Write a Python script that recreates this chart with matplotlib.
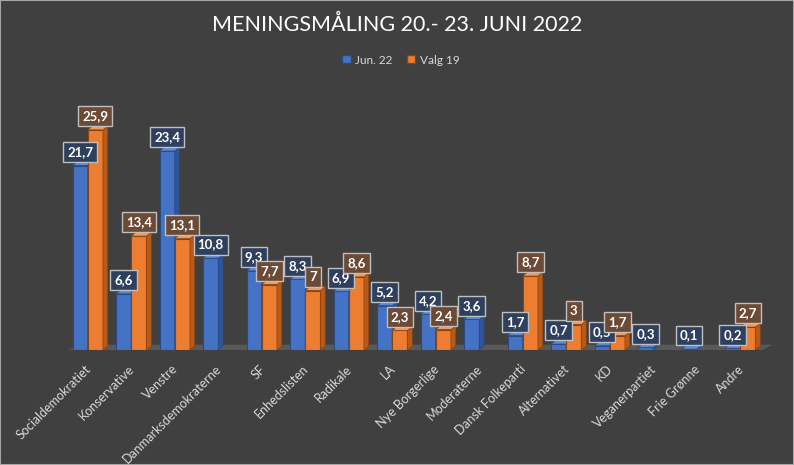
import numpy as np
import matplotlib
matplotlib.use("Agg")
import matplotlib.pyplot as plt
from matplotlib.patches import Polygon, Rectangle, Patch

plt.rcParams["font.family"] = ["Lato", "DejaVu Sans"]

categories = ["Socialdemokratiet", "Konservative", "Venstre", "Danmarksdemokraterne",
              "SF", "Enhedslisten", "Radikale", "LA", "Nye Borgerlige", "Moderaterne",
              "Dansk Folkeparti", "Alternativet", "KD", "Veganerpartiet", "Frie Grønne", "Andre"]
jun22 = [21.7, 6.6, 23.4, 10.8, 9.3, 8.3, 6.9, 5.2, 4.2, 3.6, 1.7, 0.7, 0.5, 0.3, 0.1, 0.2]
valg19 = [25.9, 13.4, 13.1, None, 7.7, 7, 8.6, 2.3, 2.4, None, 8.7, 3, 1.7, None, None, 2.7]
series_names = ["Jun. 22", "Valg 19"]

BG = "#404040"
fig = plt.figure(figsize=(7.94, 4.65), dpi=100, facecolor=BG)
fig.patches.append(Rectangle((0, 0), 1, 1, transform=fig.transFigure, fill=False,
                             ec="#a6a6a6", lw=1.5, zorder=10))
W, H = 794, 465
left_px, right_px = 66, 762
floor_px, top_px = 350, 95
ax = fig.add_axes([left_px / W, 1 - floor_px / H, (right_px - left_px) / W, (floor_px - top_px) / H])
ax.set_facecolor(BG)
ax.set_xlim(-0.5, len(categories) - 0.5)
ax.set_ylim(0, 30)
for s in ax.spines.values():
    s.set_visible(False)
ax.set_xticks([])
ax.set_yticks([])

bw = 0.35
dx, dy = 0.11, 0.45
colors = [("#4472C4", "#2F5597", "#5b86d0", "#2a4a80", "#2f3f5e"),
          ("#ED7D31", "#B85A18", "#f09a5c", "#8a4310", "#6b4a36")]

# floor
ax.add_patch(Polygon([(-0.45, 0), (len(categories) - 0.5, 0),
                      (len(categories) - 0.5 + 0.25, dy * 1.4), (-0.45 + 0.25, dy * 1.4)],
                     closed=True, fc="#595959", ec="none", zorder=0, clip_on=False))

x = np.arange(len(categories))
for si, vals in enumerate([jun22, valg19]):
    face, side, top, edge, lbl = colors[si]
    for i, v in enumerate(vals):
        if v is None:
            continue
        x0 = x[i] - bw + si * bw
        ax.bar(x0, v, width=bw, align="edge", color=face, ec=edge, lw=0.8, zorder=3 + i)
        ax.add_patch(Polygon([(x0 + bw, 0), (x0 + bw + dx, dy), (x0 + bw + dx, v + dy), (x0 + bw, v)],
                             closed=True, fc=side, ec=edge, lw=0.5, zorder=3 + i))
        ax.add_patch(Polygon([(x0, v), (x0 + dx, v + dy), (x0 + bw + dx, v + dy), (x0 + bw, v)],
                             closed=True, fc=top, ec=edge, lw=0.5, zorder=3 + i))
        txt = f"{v:g}".replace(".", ",")
        ax.text(x0 + bw / 2, v + 0.9, txt, ha="center", va="bottom", color="white",
                fontsize=9.5, fontweight="bold", zorder=40,
                bbox=dict(boxstyle="square,pad=0.3", fc=lbl, ec="#bfbfbf", lw=1))

for i, c in enumerate(categories):
    ax.text(x[i] + 0.03, -2.0, c, rotation=45, rotation_mode="anchor", ha="right", va="center",
            color="#d9d9d9", fontsize=9)

fig.text(0.5, 1 - 25 / H, "MENINGSMÅLING 20.- 23. JUNI 2022", ha="center", va="center",
         color="white", fontsize=15.5)

handles = [Patch(fc=colors[0][0], ec=colors[0][3], label=series_names[0]),
           Patch(fc=colors[1][0], ec=colors[1][3], label=series_names[1])]
leg = fig.legend(handles=handles, loc="center", bbox_to_anchor=(0.505, 1 - 60 / H), ncol=2,
                 frameon=False, fontsize=8.5, handlelength=0.7, handleheight=0.7,
                 handletextpad=0.4, columnspacing=1.2, labelcolor="#d9d9d9")

fig.savefig("out.png", dpi=100, facecolor=BG)
